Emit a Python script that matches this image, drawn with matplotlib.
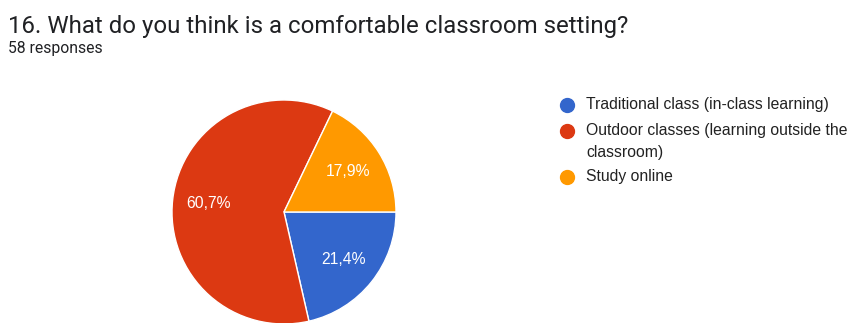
import matplotlib
matplotlib.use("Agg")
from matplotlib import pyplot as plt

# survey answers (56 answered out of 58)
labels = ["Traditional class (in-class learning)",
          "Outdoor classes (learning outside the\nclassroom)",
          "Study online"]
counts = [12, 34, 10]
colors = ["#3366cc", "#dc3912", "#ff9900"]

title = "16. What do you think is a comfortable classroom setting?"
subtitle = "58 responses"

W, H = 848, 323
fig = plt.figure(figsize=(W / 100, H / 100), dpi=100)
ax = fig.add_axes([0, 0, 1, 1])
ax.set_xlim(0, W)
ax.set_ylim(0, H)
ax.set_aspect("equal")
ax.axis("off")


def pct_label(p):
    return "{:.1f}%".format(p).replace(".", ",")


wedges, texts, autotexts = ax.pie(
    counts, colors=colors, startangle=0, counterclock=False,
    center=(284, H - 212), radius=112, autopct=pct_label, pctdistance=0.68,
    wedgeprops=dict(edgecolor="white", linewidth=1),
    textprops=dict(color="white", fontsize=11.3, family="Liberation Sans"))
ax.set_xlim(0, W)
ax.set_ylim(0, H)

# title block
ax.text(8, H - 33, title, fontsize=17.3, family="Roboto", color="#202124", va="baseline")
ax.text(8, H - 53, subtitle, fontsize=11.3, family="Roboto", color="#202124", va="baseline")

# legend
y = 105
for lab, col in zip(labels, colors):
    ax.plot(567, H - y, "o", ms=10, color=col, clip_on=False)
    for i, line in enumerate(lab.split("\n")):
        ax.text(586, H - y - 22 * i, line, fontsize=11.3, family="Liberation Sans",
                color="#222222", va="center")
    y += 26 + 20 * (lab.count("\n"))

fig.savefig("out.png", dpi=100, facecolor="white")
